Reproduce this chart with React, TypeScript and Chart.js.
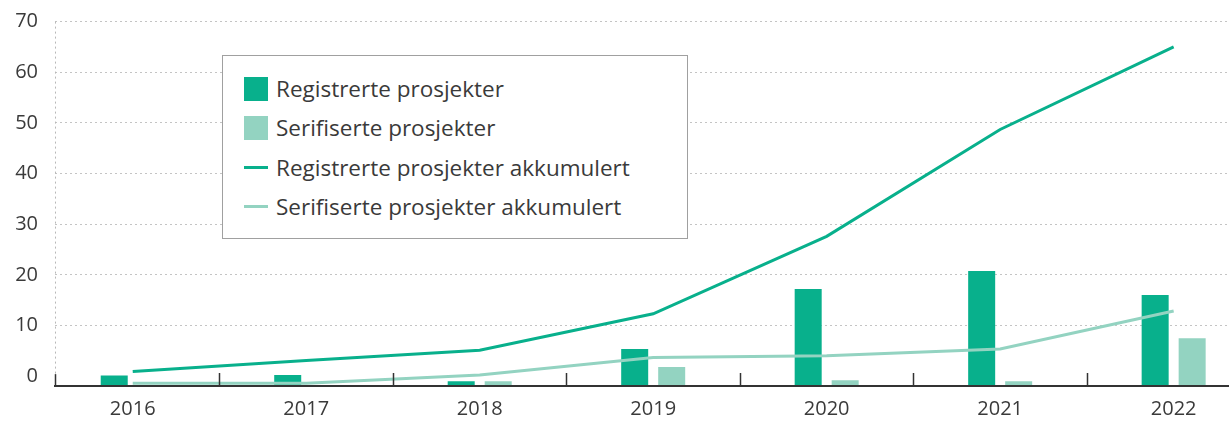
import React, { useEffect, useRef } from "react";
import { Chart, registerables } from "chart.js";

Chart.register(...registerables);

// ---- data ----
const years = ["2016", "2017", "2018", "2019", "2020", "2021", "2022"];
const registrerte = [0.1, 0.2, -1.0, 5.35, 17.2, 20.75, 16.0];
const serifiserte = [-1.9, -1.9, -1.0, 1.8, -0.8, -1.0, 7.5];
const registrerteAkk = [0.9, 3.1, 5.1, 12.3, 27.6, 48.7, 65.0];
const serifiserteAkk = [-1.4, -1.4, 0.2, 3.7, 4.0, 5.35, 12.85];
const yTicks = [0, 10, 20, 30, 40, 50, 60, 70];
const seriesLabels = [
  "Registrerte prosjekter",
  "Serifiserte prosjekter",
  "Registrerte prosjekter akkumulert",
  "Serifiserte prosjekter akkumulert",
];

const Y_MIN = -1.95;
const Y_MAX = 70;
const X_MIN = -0.448;
const X_MAX = 6.319;

const DARK = "#08b08c";
const LIGHT = "#93d3c1";
const TEXT = "#3a3a3a";
const FONT = "'Open Sans', 'Noto Sans', sans-serif";

const toPoints = (arr: number[]) => arr.map((v, i) => ({ x: i, y: v }));

const axisPlugin = {
  id: "axisDecor",
  afterDraw(chart: any) {
    const { ctx, chartArea, scales } = chart;
    const x = scales.x;
    const y = scales.y;
    ctx.save();
    // dotted y-axis line
    ctx.strokeStyle = "#b8b8b8";
    ctx.lineWidth = 1;
    ctx.setLineDash([2, 3]);
    ctx.beginPath();
    ctx.moveTo(chartArea.left + 0.5, chartArea.top);
    ctx.lineTo(chartArea.left + 0.5, y.getPixelForValue(0) - 2);
    ctx.stroke();
    ctx.setLineDash([]);
    // solid stub below zero
    ctx.strokeStyle = "#333";
    ctx.lineWidth = 1.5;
    ctx.beginPath();
    ctx.moveTo(chartArea.left + 0.5, y.getPixelForValue(0) - 2);
    ctx.lineTo(chartArea.left + 0.5, chartArea.bottom);
    ctx.stroke();
    // upward tick marks between categories
    for (let i = 0; i < years.length - 1; i++) {
      const px = Math.round(x.getPixelForValue(i + 0.5)) + 0.5;
      ctx.beginPath();
      ctx.moveTo(px, chartArea.bottom);
      ctx.lineTo(px, chartArea.bottom - 13);
      ctx.stroke();
    }
    ctx.restore();
  },
};

function Legend() {
  const items = [
    { label: seriesLabels[0], color: DARK, kind: "box" },
    { label: seriesLabels[1], color: LIGHT, kind: "box" },
    { label: seriesLabels[2], color: DARK, kind: "line" },
    { label: seriesLabels[3], color: LIGHT, kind: "line" },
  ];
  return (
    <div
      style={{
        position: "absolute",
        left: 222,
        top: 55,
        width: 464,
        height: 182,
        border: "1px solid #a0a0a0",
        background: "#fff",
        fontFamily: FONT,
        color: TEXT,
      }}
    >
      {items.map((it, i) => (
        <div
          key={i}
          style={{
            position: "absolute",
            left: 21,
            top: 13 + i * 39.3,
            height: 40,
            display: "flex",
            alignItems: "center",
            whiteSpace: "nowrap",
          }}
        >
          <div
            style={{
              width: 24,
              height: it.kind === "box" ? 24 : 3,
              background: it.color,
              marginRight: 8,
            }}
          />
          <span style={{ fontSize: 22.5, lineHeight: "26px" }}>{it.label}</span>
        </div>
      ))}
    </div>
  );
}

export default function App() {
  const canvasRef = useRef<HTMLCanvasElement | null>(null);

  useEffect(() => {
    if (!canvasRef.current) return;
    const chart = new Chart(canvasRef.current, {
      type: "bar",
      data: {
        datasets: [
          {
            type: "bar",
            label: seriesLabels[0],
            data: toPoints(registrerte),
            backgroundColor: DARK,
            base: Y_MIN,
            order: 2,
            barPercentage: 0.73,
            categoryPercentage: 0.4265,
          } as any,
          {
            type: "bar",
            label: seriesLabels[1],
            data: toPoints(serifiserte),
            backgroundColor: LIGHT,
            base: Y_MIN,
            order: 2,
            barPercentage: 0.73,
            categoryPercentage: 0.4265,
          } as any,
          {
            type: "line",
            label: seriesLabels[2],
            data: toPoints(registrerteAkk),
            borderColor: DARK,
            borderWidth: 3,
            pointRadius: 0,
            tension: 0,
            order: 0,
          } as any,
          {
            type: "line",
            label: seriesLabels[3],
            data: toPoints(serifiserteAkk),
            borderColor: LIGHT,
            borderWidth: 3,
            pointRadius: 0,
            tension: 0,
            order: 1,
          } as any,
        ],
      },
      options: {
        responsive: false,
        maintainAspectRatio: false,
        animation: false,
        layout: { padding: { top: 21.6, right: 0, left: 0, bottom: 0 } },
        plugins: {
          legend: { display: false },
          tooltip: { enabled: false },
        },
        scales: {
          x: {
            type: "linear",
            offset: false,
            min: X_MIN,
            max: X_MAX,
            afterBuildTicks: (axis: any) => {
              axis.ticks = years.map((_, i) => ({ value: i }));
            },
            afterFit: (s: any) => {
              s.height = 35;
              s.paddingLeft = 0;
              s.paddingRight = 0;
            },
            grid: { display: false, drawTicks: false, offset: false },
            border: { display: true, color: "#333", width: 2, z: 1 },
            ticks: {
              autoSkip: false,
              maxRotation: 0,
              padding: 11,
              color: TEXT,
              font: { family: FONT, size: 20 },
              callback: (v: any) => years[Number(v)] ?? "",
            },
          },
          y: {
            type: "linear",
            min: Y_MIN,
            max: Y_MAX,
            afterBuildTicks: (axis: any) => {
              axis.ticks = yTicks.map((v) => ({ value: v }));
            },
            afterFit: (s: any) => {
              s.width = 55;
              s.paddingTop = 0;
              s.paddingBottom = 0;
            },
            grid: {
              drawTicks: false,
              lineWidth: 1,
              color: (c: any) =>
                c.tick && c.tick.value === 0 ? "rgba(0,0,0,0)" : "#c4c4c4",
            },
            border: { display: false, dash: [2, 3] },
            ticks: {
              padding: 17,
              color: TEXT,
              font: { family: FONT, size: 20 },
            },
          },
        },
      } as any,
      plugins: [axisPlugin],
    });
    return () => chart.destroy();
  }, []);

  return (
    <div style={{ position: "absolute", left: 0, top: 0, width: 1229, height: 421 }}>
      <canvas ref={canvasRef} width={1229} height={421} style={{ display: "block" }} />
      <Legend />
    </div>
  );
}
